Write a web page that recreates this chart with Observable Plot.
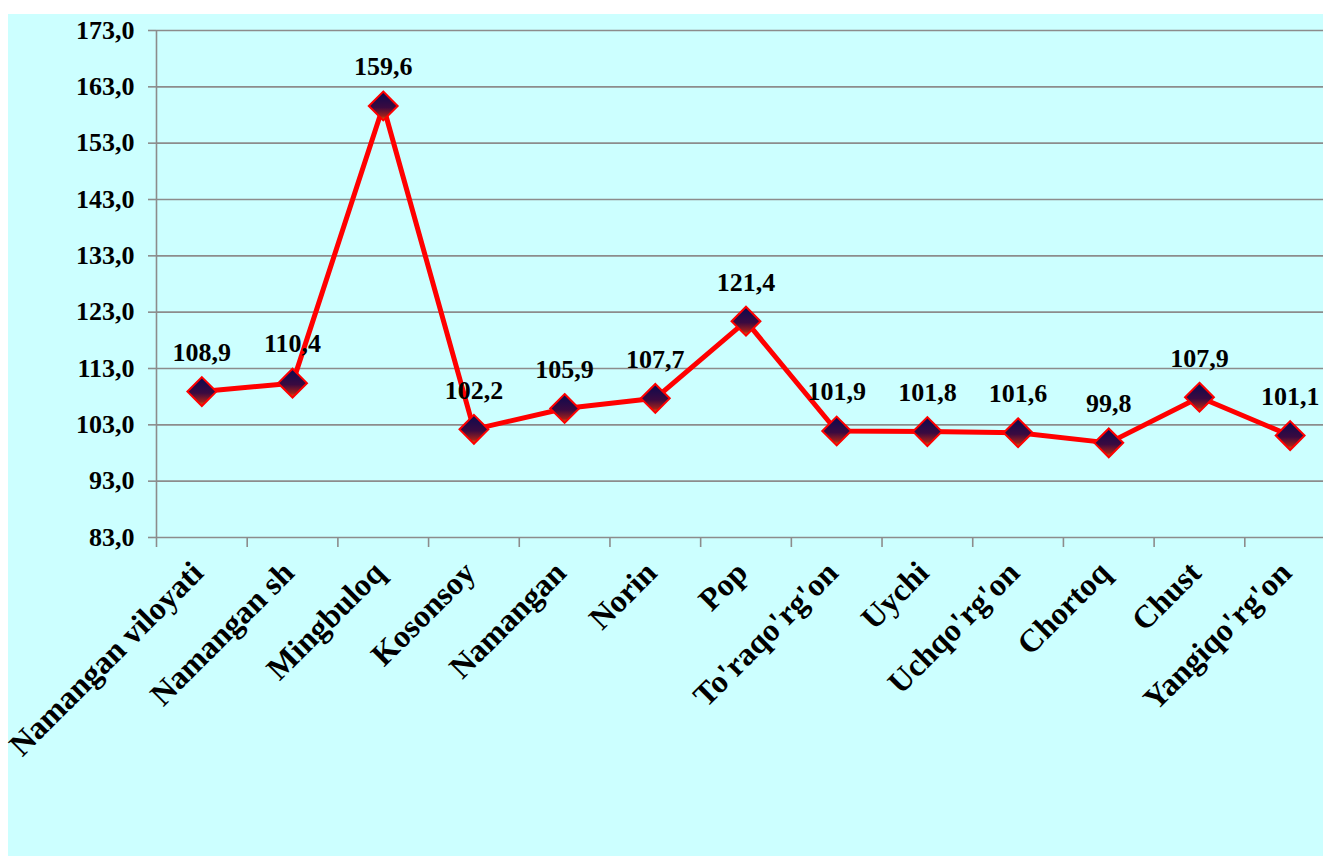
<!DOCTYPE html>
<html>
<head>
<meta charset="utf-8">
<script src="https://cdn.jsdelivr.net/npm/d3@7"></script>
<script src="https://cdn.jsdelivr.net/npm/@observablehq/plot@0.6"></script>
<style>
  html, body { margin: 0; padding: 0; background: #ffffff; overflow: hidden; width: 1323px; height: 856px; }
  #panel { position: absolute; left: 8px; top: 14px; right: 0; bottom: 0; background: #ccffff; }
  #chart { position: absolute; left: 0; top: 0; }
  #chart svg { background: transparent; overflow: visible; max-width: none !important; }
</style>
</head>
<body>
<div id="panel"></div>
<div id="chart"></div>
<script>
const categories = ["Namangan viloyati", "Namangan sh", "Mingbuloq", "Kosonsoy", "Namangan", "Norin", "Pop", "To'raqo'rg'on", "Uychi", "Uchqo'rg'on", "Chortoq", "Chust", "Yangiqo'rg'on"];
const values = [108.9, 110.4, 159.6, 102.2, 105.9, 107.7, 121.4, 101.9, 101.8, 101.6, 99.8, 107.9, 101.1];
const yTicks = [83, 93, 103, 113, 123, 133, 143, 153, 163, 173];

const data = categories.map((c, i) => ({ name: c, value: values[i] }));
const fmt = v => v.toFixed(1).replace(".", ",");

const W = 1335, H = 856, ML = 156, MR = 0, MT = 30, MB = 319;
const bw = (W - ML - MR) / categories.length;
const font = "'Liberation Serif', 'Times New Roman', serif";
const grid = "#8c8c8c";
const FS = 26;
const FSX = 32;

const chart = Plot.plot({
  width: W,
  height: H,
  marginLeft: ML,
  marginRight: MR,
  marginTop: MT,
  marginBottom: MB,
  style: { fontFamily: font, fontWeight: "bold", fontSize: FS + "px", color: "#000", background: "transparent" },
  x: { type: "band", domain: categories, padding: 0, round: false },
  y: { domain: [83, 173] },
  marks: [
    Plot.ruleY(yTicks, { stroke: grid, strokeWidth: 1.6 }),
    Plot.ruleX([0], { x: () => categories[0], dx: -bw / 2, y1: 83, y2: 173, stroke: grid, strokeWidth: 1.6 }),
    Plot.axisY({ ticks: yTicks, tickFormat: fmt, tickSize: 8, tickPadding: 14, stroke: grid, strokeWidth: 1.6, strokeOpacity: 1, fontSize: FS, fontWeight: "bold", label: null }),
    Plot.axisX({ ticks: categories, tickSize: 10, text: null, dx: -bw / 2, stroke: grid, strokeWidth: 1.6, strokeOpacity: 1, label: null }),
    Plot.axisX({ ticks: categories, tickSize: 0, tickRotate: -45, tickPadding: 30, dx: -4, textAnchor: "end", fontSize: FSX, fontWeight: "bold", label: null }),
    Plot.line(data, { x: "name", y: "value", stroke: "#ff0000", strokeWidth: 5 }),
    Plot.dot(data, { x: "name", y: "value", symbol: "diamond2", r: 13, fill: "url(#mk)", stroke: "#ff0000", strokeWidth: 2 }),
    Plot.text(data, { x: "name", y: "value", text: d => fmt(d.value), dy: -39, fontSize: FS, fontWeight: "bold", fill: "#000" })
  ]
});

const svg = d3.select(chart);
const defs = svg.insert("defs", ":first-child");
const g = defs.append("linearGradient").attr("id", "mk").attr("x1", 0).attr("y1", 0).attr("x2", 0).attr("y2", 1);
g.append("stop").attr("offset", "0%").attr("stop-color", "#0a0a50");
g.append("stop").attr("offset", "55%").attr("stop-color", "#3a0a40");
g.append("stop").attr("offset", "85%").attr("stop-color", "#a0201a");
g.append("stop").attr("offset", "100%").attr("stop-color", "#e07010");

document.getElementById("chart").appendChild(chart);
</script>
</body>
</html>
